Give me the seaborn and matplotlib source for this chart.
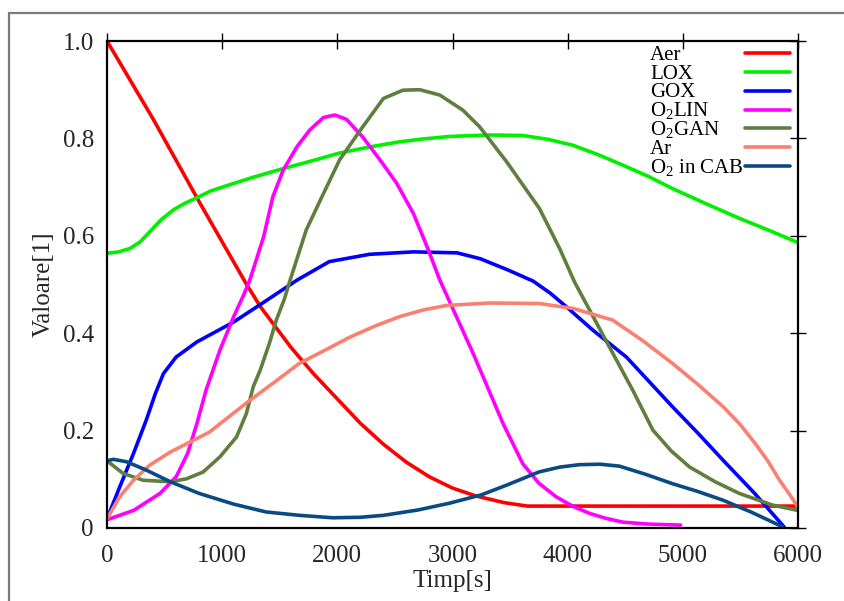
import matplotlib
matplotlib.use("Agg")
import matplotlib.pyplot as plt
from matplotlib.lines import Line2D
from matplotlib.ticker import FuncFormatter, FixedLocator
import pandas as pd
import seaborn as sns

# --- data: time [s] and normalised values for each stream ---
aer_t = [0, 400, 800, 1200, 1330, 1600, 1800, 2000, 2200, 2400, 2600, 2800, 3000, 3200,
         3450, 3650, 4000, 5000, 6000]
aer_v = [1.0, 0.84, 0.67, 0.505, 0.455, 0.37, 0.315, 0.265, 0.215, 0.172, 0.135, 0.105,
         0.082, 0.066, 0.052, 0.045, 0.045, 0.045, 0.045]

lox_t = [0, 100, 200, 290, 370, 470, 575, 670, 770, 900, 1040, 1280, 1530, 1780, 2020,
         2270, 2540, 2750, 2975, 3320, 3610, 3830, 4045, 4260, 4480, 4700, 4910, 5200,
         5490, 5750, 6000]
lox_v = [0.564, 0.567, 0.574, 0.588, 0.608, 0.633, 0.653, 0.666, 0.677, 0.692, 0.703, 0.721,
         0.738, 0.754, 0.770, 0.782, 0.793, 0.799, 0.804, 0.807, 0.806, 0.798, 0.786, 0.767,
         0.745, 0.722, 0.697, 0.666, 0.636, 0.611, 0.586]

gox_t = [0, 110, 230, 340, 420, 490, 600, 780, 1100, 1390, 1650, 1930, 2280, 2660, 3040,
         3240, 3480, 3700, 3850, 3990, 4220, 4510, 4710, 4910, 5130, 5350, 5620, 5880]
gox_v = [0.019, 0.084, 0.153, 0.221, 0.276, 0.317, 0.351, 0.382, 0.423, 0.468, 0.509, 0.547,
         0.562, 0.567, 0.565, 0.553, 0.530, 0.507, 0.482, 0.454, 0.406, 0.351, 0.300, 0.249,
         0.195, 0.139, 0.072, 0.002]

o2lin_t = [0, 230, 460, 600, 700, 780, 860, 980, 1100, 1180, 1240, 1360, 1440, 1530, 1650,
           1760, 1880, 1980, 2080, 2220, 2370, 2515, 2660, 2780, 2890, 3180, 3440, 3610,
           3750, 3900, 4050, 4190, 4330, 4480, 4700, 4980]
o2lin_v = [0.017, 0.036, 0.071, 0.105, 0.153, 0.214, 0.283, 0.365, 0.434, 0.475, 0.509,
           0.598, 0.680, 0.735, 0.783, 0.817, 0.843, 0.848, 0.839, 0.803, 0.756, 0.708,
           0.646, 0.577, 0.509, 0.358, 0.214, 0.132, 0.092, 0.064, 0.044, 0.030, 0.020,
           0.012, 0.008, 0.006]

o2gan_t = [0, 140, 315, 550, 690, 835, 980, 1125, 1210, 1270, 1330, 1410, 1470, 1540, 1590,
           1730, 1880, 2020, 2200, 2400, 2570, 2715, 2890, 3090, 3235, 3470, 3755, 3930,
           4060, 4330, 4565, 4740, 4900, 5060, 5280, 5490, 5780, 6000]
o2gan_v = [0.138, 0.112, 0.098, 0.095, 0.101, 0.115, 0.146, 0.187, 0.235, 0.290, 0.324,
           0.379, 0.427, 0.470, 0.509, 0.612, 0.687, 0.756, 0.817, 0.882, 0.899, 0.900,
           0.889, 0.858, 0.824, 0.752, 0.656, 0.574, 0.505, 0.386, 0.283, 0.201, 0.158,
           0.125, 0.095, 0.071, 0.047, 0.036]

ar_t = [0, 110, 230, 370, 550, 750, 890, 1040, 1240, 1440, 1670, 1900, 2110, 2330, 2540,
        2750, 2950, 3320, 3750, 4045, 4390, 4650, 4910, 5130, 5350, 5500, 5630, 5740, 5840,
        5930, 6000]
ar_v = [0.019, 0.064, 0.098, 0.129, 0.156, 0.180, 0.197, 0.225, 0.262, 0.297, 0.338, 0.366,
        0.392, 0.415, 0.434, 0.448, 0.457, 0.462, 0.461, 0.451, 0.427, 0.385, 0.338, 0.295,
        0.249, 0.212, 0.173, 0.137, 0.098, 0.068, 0.043]

cab_t = [0, 55, 170, 340, 550, 800, 1100, 1380, 1670, 1960, 2200, 2400, 2700, 2975, 3250,
         3470, 3750, 3930, 4100, 4280, 4450, 4680, 4910, 5130, 5350, 5600, 5870]
cab_v = [0.138, 0.141, 0.136, 0.119, 0.095, 0.071, 0.049, 0.033, 0.026, 0.021, 0.022, 0.026,
         0.037, 0.051, 0.068, 0.088, 0.115, 0.125, 0.130, 0.131, 0.127, 0.110, 0.091, 0.075,
         0.057, 0.032, 0.002]

series_names = ["Aer", "LOX", "GOX", "O2LIN", "O2GAN", "Ar", "O2 in CAB"]
series_labels = ["Aer", "LOX", "GOX", r"O$_2$LIN", r"O$_2$GAN", "Ar", r"O$_2$ in CAB"]
series_colors = ["#ff0000", "#00f000", "#0000ff", "#ff00ff", "#5f7f3f", "#fa8072", "#0a4a84"]
series_data = [(aer_t, aer_v), (lox_t, lox_v), (gox_t, gox_v), (o2lin_t, o2lin_v),
               (o2gan_t, o2gan_v), (ar_t, ar_v), (cab_t, cab_v)]

x_ticks = [0, 1000, 2000, 3000, 4000, 5000, 6000]
y_ticks = [0, 0.2, 0.4, 0.6, 0.8, 1.0]

frames = []
for name, (t, v) in zip(series_names, series_data):
    frames.append(pd.DataFrame({"Timp": t, "Valoare": v, "Serie": name}))
df = pd.concat(frames, ignore_index=True)

sns.set_theme(style="white")
plt.rcParams["font.family"] = ["Liberation Serif", "DejaVu Serif"]
plt.rcParams["mathtext.fontset"] = "custom"
plt.rcParams["mathtext.rm"] = "Liberation Serif"
plt.rcParams["mathtext.it"] = "Liberation Serif"
plt.rcParams["mathtext.default"] = "regular"

fig = plt.figure(figsize=(8.44, 6.01), dpi=100)
fig.patch.set_facecolor("white")
ax = fig.add_axes([107 / 844, 1 - 528 / 601, 691 / 844, 487 / 601])

sns.lineplot(data=df, x="Timp", y="Valoare", hue="Serie", hue_order=series_names,
             palette=dict(zip(series_names, series_colors)), estimator=None, sort=False,
             linewidth=2.6, legend=False, ax=ax)
for ln in ax.lines:
    ln.set_solid_joinstyle("round")
    ln.set_solid_capstyle("round")

ax.set_xlim(0, 6000)
ax.set_ylim(0, 1.0)
ax.xaxis.set_major_locator(FixedLocator(x_ticks))
ax.yaxis.set_major_locator(FixedLocator(y_ticks))
ax.xaxis.set_major_formatter(FuncFormatter(lambda v, p: f"{int(v)}"))
ax.yaxis.set_major_formatter(FuncFormatter(lambda v, p: "0" if v == 0 else f"{v:.1f}"))
ax.tick_params(axis="both", which="major", direction="inout", length=11, width=1.0,
               color="black", labelsize=18, top=True, right=True, pad=4)
ax.tick_params(axis="x", pad=7)
for s in ax.spines.values():
    s.set_visible(True)
    s.set_color("black")
    s.set_linewidth(1.6)

ax.set_xlabel("Timp[s]", fontsize=18, labelpad=2)
ax.set_ylabel("Valoare[1]", fontsize=18, labelpad=6)

# key: left-aligned names followed by line samples, in axes fractions
key_text_x = 0.786
key_line_x = (0.923, 0.988)
key_top = 0.975
key_step = 0.0386
for i, (lab, col) in enumerate(zip(series_labels, series_colors)):
    yk = key_top - i * key_step
    ax.text(key_text_x, yk - 0.0135, lab, transform=ax.transAxes, ha="left",
            va="baseline", fontsize=15, color="black")
    ax.plot(key_line_x, [yk, yk], transform=ax.transAxes, color=col, linewidth=2.6,
            clip_on=False)

# grey outer frame of the window
fig.add_artist(Line2D([9 / 844, 9 / 844], [0, 1 - 13 / 601], transform=fig.transFigure,
                      color="#7a7a7a", linewidth=1.6))
fig.add_artist(Line2D([9 / 844, 1], [1 - 13 / 601, 1 - 13 / 601], transform=fig.transFigure,
                      color="#7a7a7a", linewidth=1.6))

fig.savefig("out.png", dpi=100)
